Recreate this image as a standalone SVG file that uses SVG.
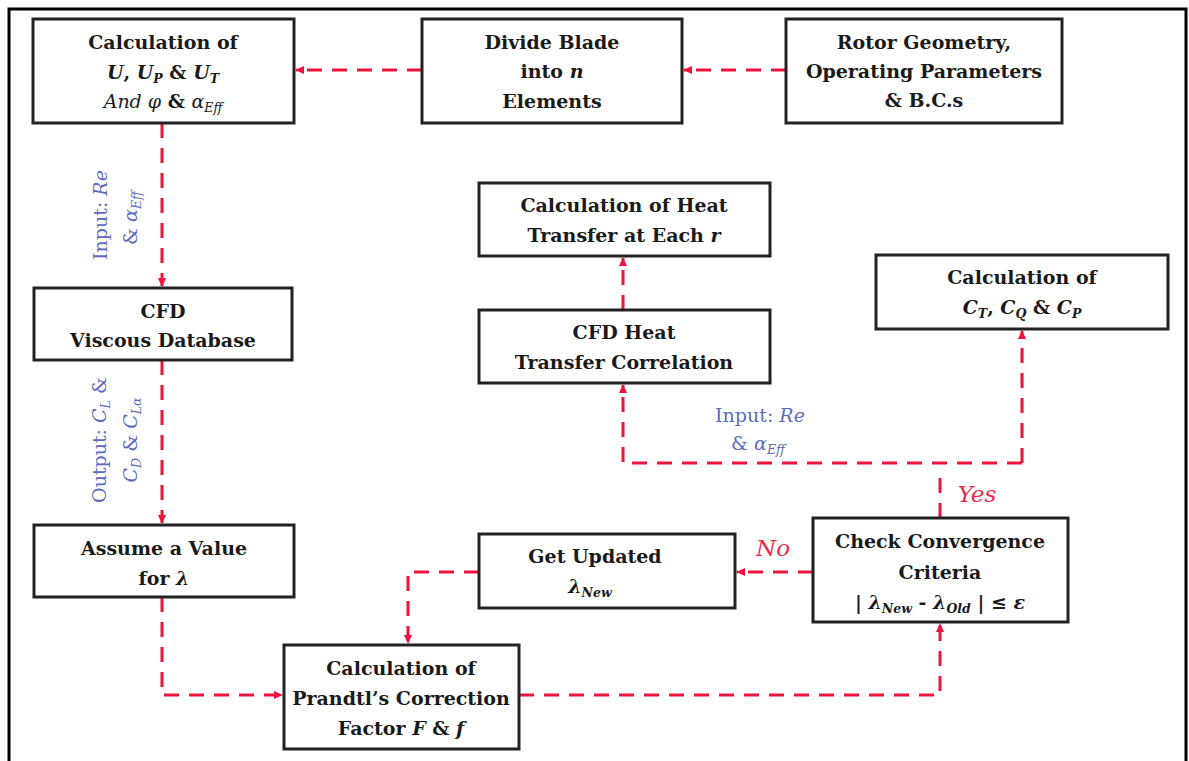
<svg xmlns="http://www.w3.org/2000/svg" width="1189" height="761" viewBox="0 0 1189 761" font-family="DejaVu Serif, Liberation Serif, serif">
<defs>
<marker id="ah" markerWidth="10" markerHeight="10" refX="8" refY="5" orient="auto" markerUnits="userSpaceOnUse">
<path d="M0,1 L9,5 L0,9 Z" fill="#f0143c"/>
</marker>
</defs>
<style>
.box{fill:#fff;stroke:#222;stroke-width:3}
.t{font-family:'DejaVu Serif','Liberation Serif',serif;font-weight:bold;font-size:19px;fill:#1a1a1a;text-anchor:middle}
.i{font-style:italic}
.s{font-size:12.5px}
.c{fill:none;stroke:#f0143c;stroke-width:3;stroke-dasharray:15 10}
.lb{font-family:'DejaVu Serif','Liberation Serif',serif;font-size:19px;fill:#5b6cc0;text-anchor:middle}
.yn{font-family:'DejaVu Serif','Liberation Serif',serif;font-style:italic;font-size:23px;fill:#ec2850;text-anchor:middle}
</style>
<rect x="0" y="0" width="1189" height="761" fill="#fff"/>
<path d="M9,761 V9 H1186 V761" fill="none" stroke="#000" stroke-width="3"/>

<g id="connectors">
<path class="c" d="M786,70 H684" marker-end="url(#ah)"/>
<path class="c" d="M422,70 H296" marker-end="url(#ah)"/>
<path class="c" d="M162,123 V286" marker-end="url(#ah)"/>
<path class="c" d="M162,360 V523" marker-end="url(#ah)"/>
<path class="c" d="M162,597 V695 H282" marker-end="url(#ah)"/>
<path class="c" d="M519,695 H940 V624" marker-end="url(#ah)"/>
<path class="c" d="M813,572 H737" marker-end="url(#ah)"/>
<path class="c" d="M479,572 H408 V643" marker-end="url(#ah)"/>
<path class="c" d="M940,518 V478"/>
<path class="c" d="M1022,463 H623 V385" marker-end="url(#ah)"/>
<path class="c" d="M1022,463 V331" marker-end="url(#ah)"/>
<path class="c" d="M623,310 V258" marker-end="url(#ah)"/>
<text class="lb" transform="translate(107,215) rotate(-90)">Input: <tspan class="i">Re</tspan></text>
<text class="lb" transform="translate(137,218) rotate(-90)">&amp; <tspan class="i">α</tspan><tspan class="i s" dy="4">Eff</tspan></text>
<text class="lb" transform="translate(106,440) rotate(-90)">Output: <tspan class="i">C</tspan><tspan class="i s" dy="4">L</tspan><tspan dy="-4"> &amp;</tspan></text>
<text class="lb" transform="translate(137,440) rotate(-90)"><tspan class="i">C</tspan><tspan class="i s" dy="4">D</tspan><tspan dy="-4"> &amp; </tspan><tspan class="i">C</tspan><tspan class="i s" dy="4">Lα</tspan></text>
<text class="lb" x="760" y="422">Input: <tspan class="i">Re</tspan></text>
<text class="lb" x="758" y="450">&amp; <tspan class="i">α</tspan><tspan class="i s" dy="4">Eff</tspan></text>
<text class="yn" x="977" y="502">Yes</text>
<text class="yn" x="773" y="556">No</text>
</g>

<g id="n1">
<rect class="box" x="33" y="19" width="261" height="104"/>
<text class="t" x="163" y="49">Calculation of</text>
<text class="t" x="163" y="79"><tspan class="i">U</tspan>, <tspan class="i">U</tspan><tspan class="i s" dy="4">P</tspan><tspan dy="-4"> &amp; </tspan><tspan class="i">U</tspan><tspan class="i s" dy="4">T</tspan></text>
<text class="t" x="163" y="108"><tspan class="i" font-weight="normal">And φ</tspan> &amp; <tspan class="i" font-weight="normal">α</tspan><tspan class="i s" font-weight="normal" dy="4">Eff</tspan></text>
</g>
<g id="n2">
<rect class="box" x="422" y="19" width="260" height="104"/>
<text class="t" x="552" y="49">Divide Blade</text>
<text class="t" x="552" y="78">into <tspan class="i">n</tspan></text>
<text class="t" x="552" y="108">Elements</text>
</g>
<g id="n3">
<rect class="box" x="786" y="19" width="276" height="104"/>
<text class="t" x="924" y="49">Rotor Geometry,</text>
<text class="t" x="924" y="78">Operating Parameters</text>
<text class="t" x="924" y="107">&amp; B.C.s</text>
</g>
<g id="n4">
<rect class="box" x="34" y="288" width="258" height="72"/>
<text class="t" x="163" y="318">CFD</text>
<text class="t" x="163" y="347">Viscous Database</text>
</g>
<g id="n5">
<rect class="box" x="34" y="525" width="260" height="72"/>
<text class="t" x="164" y="555">Assume a Value</text>
<text class="t" x="164" y="585">for <tspan class="i">λ</tspan></text>
</g>
<g id="n6">
<rect class="box" x="284" y="645" width="235" height="104"/>
<text class="t" x="401" y="675">Calculation of</text>
<text class="t" x="401" y="705">Prandtl’s Correction</text>
<text class="t" x="401" y="735">Factor <tspan class="i">F</tspan> &amp; <tspan class="i">f</tspan></text>
</g>
<g id="n7">
<rect class="box" x="479" y="183" width="291" height="73"/>
<text class="t" x="624" y="212">Calculation of Heat</text>
<text class="t" x="624" y="242">Transfer at Each <tspan class="i">r</tspan></text>
</g>
<g id="n8">
<rect class="box" x="479" y="310" width="291" height="73"/>
<text class="t" x="624" y="339">CFD Heat</text>
<text class="t" x="624" y="369">Transfer Correlation</text>
</g>
<g id="n9">
<rect class="box" x="876" y="255" width="292" height="74"/>
<text class="t" x="1022" y="284">Calculation of</text>
<text class="t" x="1022" y="314"><tspan class="i">C</tspan><tspan class="i s" dy="4">T</tspan><tspan dy="-4">, </tspan><tspan class="i">C</tspan><tspan class="i s" dy="4">Q</tspan><tspan dy="-4"> &amp; </tspan><tspan class="i">C</tspan><tspan class="i s" dy="4">P</tspan></text>
</g>
<g id="n10">
<rect class="box" x="813" y="518" width="255" height="104"/>
<text class="t" x="940" y="548">Check Convergence</text>
<text class="t" x="940" y="579">Criteria</text>
<text class="t" x="940" y="609" font-weight="normal">| <tspan class="i">λ</tspan><tspan class="i s" dy="4">New</tspan><tspan dy="-4"> - </tspan><tspan class="i">λ</tspan><tspan class="i s" dy="4">Old</tspan><tspan dy="-4"> | ≤ </tspan><tspan class="i">ε</tspan></text>
</g>
<g id="n11">
<rect class="box" x="479" y="534" width="256" height="74"/>
<text class="t" x="595" y="563">Get Updated</text>
<text class="t" x="590" y="593" font-weight="normal"><tspan class="i">λ</tspan><tspan class="i s" dy="4">New</tspan></text>
</g>
</svg>
